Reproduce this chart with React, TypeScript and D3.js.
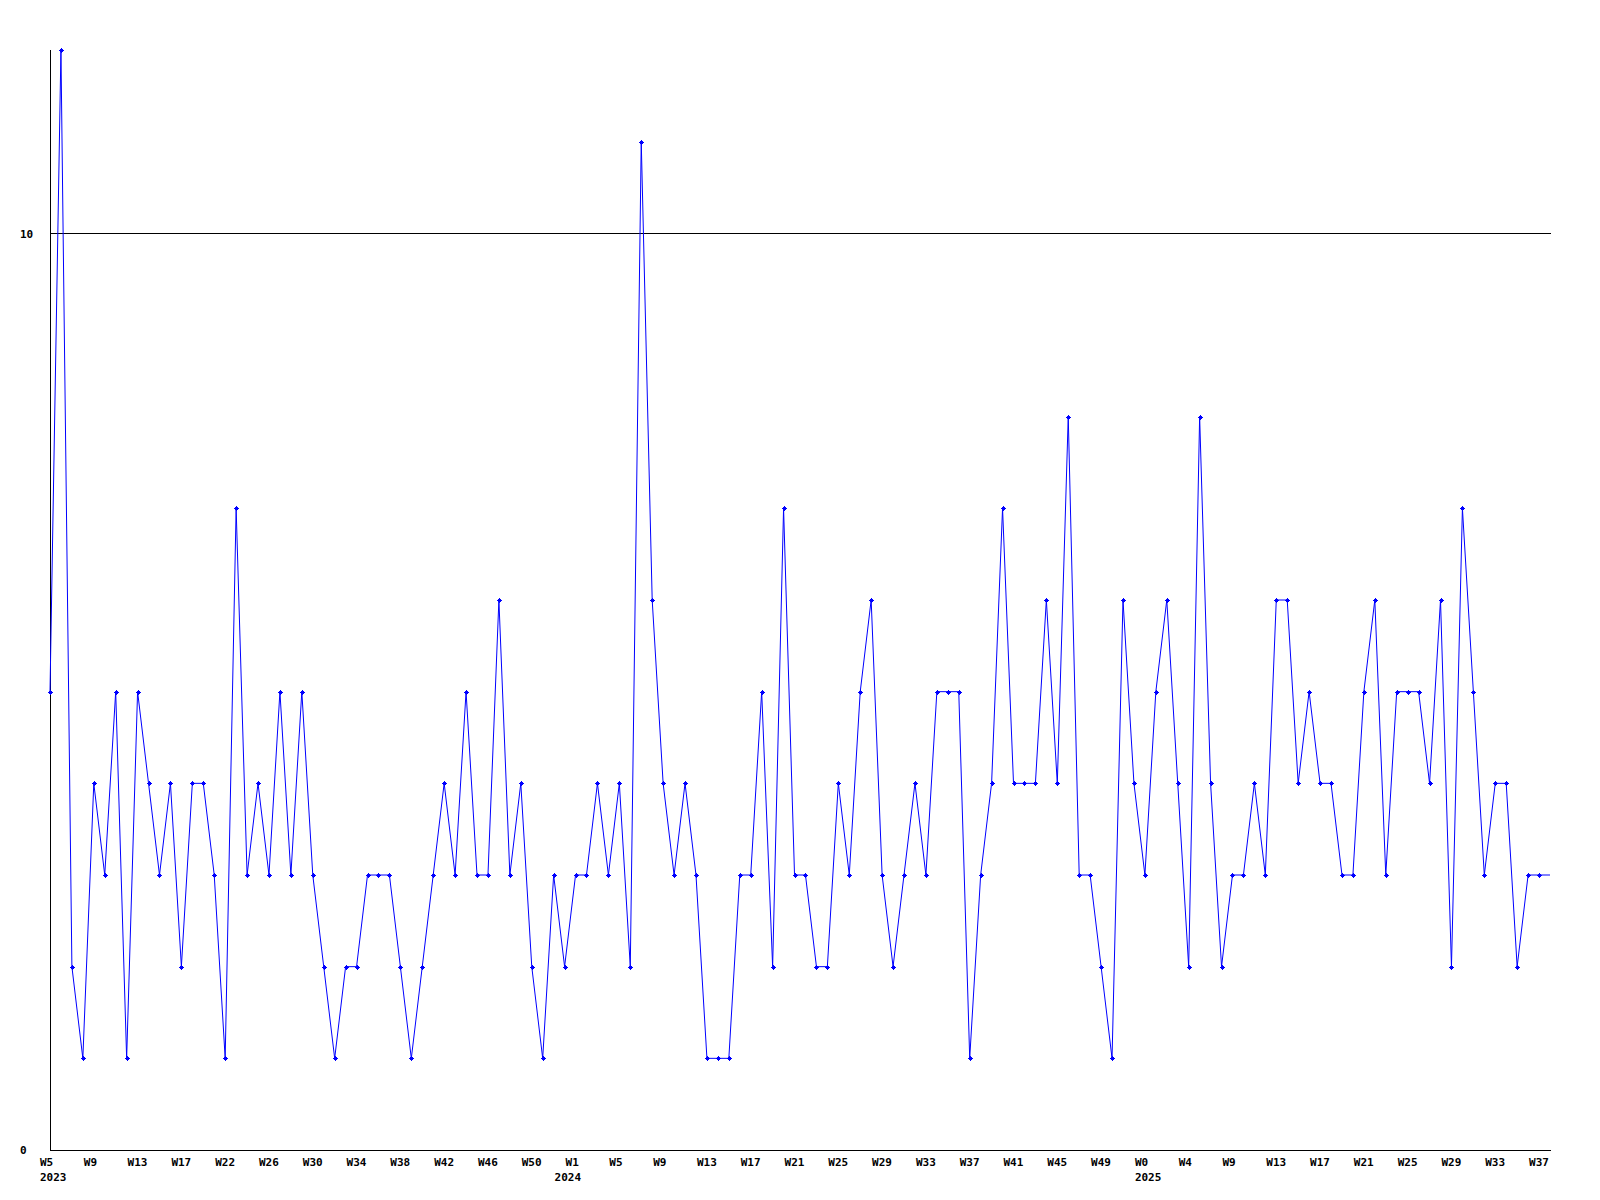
import React from "react";
import * as d3 from "d3";

const values: number[] = [
  5, 12, 2, 1, 4, 3, 5, 1, 5, 4,
  3, 4, 2, 4, 4, 3, 1, 7, 3, 4,
  3, 5, 3, 5, 3, 2, 1, 2, 2, 3,
  3, 3, 2, 1, 2, 3, 4, 3, 5, 3,
  3, 6, 3, 4, 2, 1, 3, 2, 3, 3,
  4, 3, 4, 2, 11, 6, 4, 3, 4, 3,
  1, 1, 1, 3, 3, 5, 2, 7, 3, 3,
  2, 2, 4, 3, 5, 6, 3, 2, 3, 4,
  3, 5, 5, 5, 1, 3, 4, 7, 4, 4,
  4, 6, 4, 8, 3, 3, 2, 1, 6, 4,
  3, 5, 6, 4, 2, 8, 4, 2, 3, 3,
  4, 3, 6, 6, 4, 5, 4, 4, 3, 3,
  5, 6, 3, 5, 5, 5, 4, 6, 2, 7,
  5, 3, 4, 4, 2, 3, 3, 3,
];

// last value is an open (partial) period: drawn in the line, no marker
const markerCount = 137;

const weekLabels: string[] = [
  "W5", "W9", "W13", "W17", "W22", "W26", "W30", "W34", "W38", "W42", "W46", "W50",
  "W1", "W5", "W9", "W13", "W17", "W21", "W25", "W29", "W33", "W37", "W41", "W45", "W49",
  "W0", "W4", "W9", "W13", "W17", "W21", "W25", "W29", "W33", "W37",
];
const labelStep = 4;
const yearLabels: { index: number; label: string }[] = [
  { index: 0, label: "2023" },
  { index: 47, label: "2024" },
  { index: 100, label: "2025" },
];
const yTicks: number[] = [0, 10];

export default function App() {
  const width = 1600;
  const height = 1200;
  const x = d3.scaleLinear().domain([0, values.length - 1]).range([50, 1550]);
  const y = d3.scaleLinear().domain([0, 12]).range([1150, 50]);
  const line = d3
    .line<number>()
    .x((_, i) => x(i))
    .y((d) => y(d));

  const font = "'DejaVu Sans Mono', monospace";

  return (
    <div style={{ position: "absolute", left: 0, top: 0 }}>
      <svg width={width} height={height} style={{ display: "block", background: "#fff" }}>
        <rect x={0} y={0} width={width} height={height} fill="#fff" />
        {/* axes */}
        <line x1={50.5} y1={50} x2={50.5} y2={1150.5} stroke="#000" strokeWidth={1} shapeRendering="crispEdges" />
        <line x1={50} y1={1150.5} x2={1551} y2={1150.5} stroke="#000" strokeWidth={1} shapeRendering="crispEdges" />
        {yTicks.filter((t) => t !== 0).map((t) => (
          <line key={t} x1={50} y1={Math.round(y(t)) + 0.5} x2={1551} y2={Math.round(y(t)) + 0.5} stroke="#000" strokeWidth={1} shapeRendering="crispEdges" />
        ))}
        {yTicks.map((t) => (
          <text key={"yl" + t} x={20} y={y(t) + (t === 0 ? 4 : 5)} fontFamily={font} fontWeight="bold" fontSize={11} fill="#000">
            {t}
          </text>
        ))}
        {weekLabels.map((l, k) => (
          <text key={"w" + k} x={x(k * labelStep) - 10} y={1166} fontFamily={font} fontWeight="bold" fontSize={11} fill="#000">
            {l}
          </text>
        ))}
        {yearLabels.map((yl) => (
          <text key={"y" + yl.label} x={x(yl.index) - 10} y={1181} fontFamily={font} fontWeight="bold" fontSize={11} fill="#000">
            {yl.label}
          </text>
        ))}
        {/* series */}
        <path d={line(values) || ""} fill="none" stroke="#0000ff" strokeWidth={1} />
        {values.slice(0, markerCount).map((v, i) => {
          const cx = Math.round(x(i));
          const cy = Math.round(y(v));
          return (
            <path
              key={"m" + i}
              d={`M${cx - 2},${cy}h5v1h-5z M${cx},${cy - 2}h1v5h-1z M${cx - 1},${cy - 1}h3v3h-3z`}
              fill="#0000ff"
              shapeRendering="crispEdges"
            />
          );
        })}
      </svg>
    </div>
  );
}
